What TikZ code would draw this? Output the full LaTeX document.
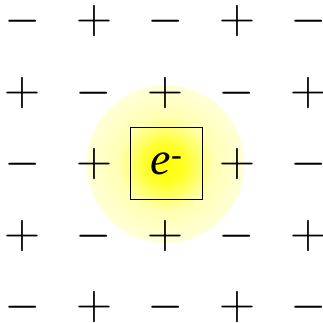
\documentclass[tikz,border=0pt]{standalone}
\usepackage{fontspec}
\newfontfamily\efont{Liberation Serif}
\usepackage{tikz}
\usetikzlibrary{positioning}

\pgfdeclareradialshading{glow}{\pgfpoint{0bp}{0bp}}{%
  color(0bp)=(yellow); color(6bp)=(yellow!85); color(15bp)=(yellow!30);
  color(25bp)=(yellow!15); color(50bp)=(yellow!9)}

\begin{document}
\begin{tikzpicture}[
  x=1pt, y=-1pt,
  sign/.style={inner sep=0pt, anchor=base, text height=20pt, text depth=0pt},
  plussign/.style={sign, yshift=-11pt, font=\fontsize{50}{50}\selectfont},
  minussign/.style={sign, yshift=-8pt, font=\bfseries\fontsize{37}{37}\selectfont},
  ebox/.style={draw, line width=1pt, minimum width=72pt, minimum height=72pt, inner sep=0pt, font=\efont\fontsize{46}{46}\selectfont},
]
  \useasboundingbox (0,0) rectangle (323,322);

  % Glow round the electron
  \shade[shading=glow] (165.5,164) circle (79);

  % Lattice of charges
  \foreach \i in {0,...,4} {
    \foreach \j in {0,...,4} {
      \pgfmathtruncatemacro{\parity}{mod(\i+\j,2)}
      \pgfmathtruncatemacro{\mid}{(\i==2)&&(\j==2)}
      \ifnum\mid=0
        \ifnum\parity=0
          \node[minussign] (s-\i-\j) at (22.5+71.5*\i, 22.5+71.5*\j) {−};
        \else
          \node[plussign] (s-\i-\j) at (22.5+71.5*\i, 22.5+71.5*\j) {+};
        \fi
      \fi
    }
  }

  % Electron in the middle
  \node[ebox] (electron) at (166.5,163.5) {\textit{e}\textsuperscript{-}};
\end{tikzpicture}
\end{document}
